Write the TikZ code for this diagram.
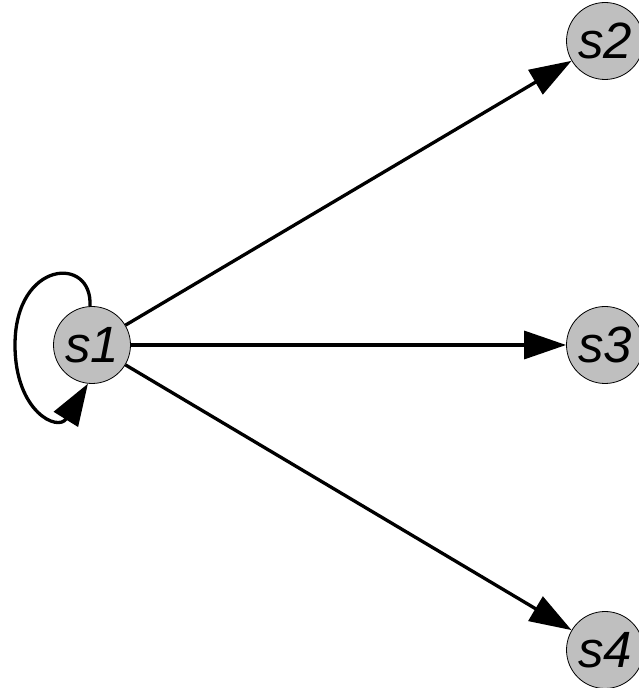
\documentclass[tikz,border=0pt]{standalone}
\usepackage{fontspec}
\setmainfont{Liberation Sans}
\usetikzlibrary{arrows.meta}

\begin{document}
\begin{tikzpicture}[x=1pt,y=1pt,
    state/.style={circle,draw=black,line width=0.8pt,fill=black!25,
      minimum size=77pt,inner sep=0pt,
      font=\fontsize{51}{51}\selectfont\itshape},
    edge/.style={line width=3.3pt,-{Triangle[length=42pt,width=28pt]}}]
  \useasboundingbox (0,0) rectangle (638,688);

  \node[state] (s1) at (92,343) {s1};
  \node[state] (s2) at (605,647) {s2};
  \node[state] (s3) at (605,343) {s3};
  \node[state] (s4) at (605,38) {s4};

  \draw[edge] (s1) -- (s2);
  \draw[edge] (s1) -- (s3);
  \draw[edge] (s1) -- (s4);

  % loop back into s1
  \draw[edge] (s1.93) .. controls (93,433) and (15,428) .. (15,343)
    .. controls (15,276) and (58,256) .. (s1.-96);
\end{tikzpicture}
\end{document}
